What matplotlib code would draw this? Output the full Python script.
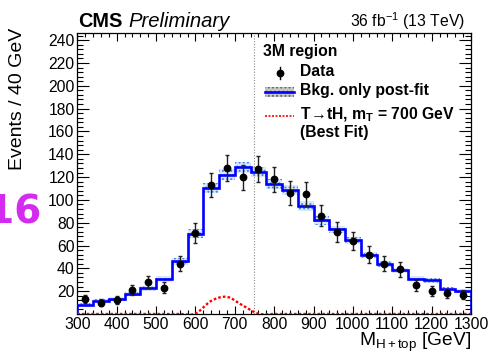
import numpy as np
import matplotlib
matplotlib.use("Agg")
import matplotlib.pyplot as plt
from matplotlib.path import Path
from matplotlib.patches import PathPatch, Rectangle
from matplotlib.lines import Line2D
from matplotlib.ticker import MultipleLocator, FixedLocator

plt.rcParams['font.family'] = ['Liberation Sans', 'DejaVu Sans']
plt.rcParams['mathtext.fontset'] = 'custom'
plt.rcParams['mathtext.rm'] = 'Liberation Sans'
plt.rcParams['mathtext.it'] = 'Liberation Sans:italic'
plt.rcParams['mathtext.bf'] = 'Liberation Sans:bold'
plt.rcParams['hatch.linewidth'] = 0.9

# ---------------- data ----------------
bin_edges = np.arange(300, 1301, 40)
data_counts = [13, 10, 12, 21, 28, 23, 44, 71, 113, 128, 120, 127, 118,
               106, 105, 86, 72, 64, 52, 44, 39, 25, 20, 18, 17]
bkg_postfit = [8.1, 11.8, 13.3, 17.7, 22.6, 30.3, 46.3, 70.4, 110.4, 122.1,
               128.8, 124.4, 114.2, 108.9, 94.6, 82.0, 74.1, 64.5, 51.6,
               43.7, 38.2, 30.9, 29.4, 21.8, 20.4]
bkg_unc = [1.3, 1.5, 1.6, 1.9, 2.2, 2.6, 3.2, 3.8, 4.5, 4.7, 4.8, 4.7, 4.5,
           4.3, 4.0, 3.7, 3.4, 3.1, 2.8, 2.5, 2.3, 2.1, 2.0, 1.8, 1.7]
signal = [0, 0, 0, 0, 0, 0, 0, 0.3, 11.5, 15.0, 7.5, 0.3, 0, 0, 0, 0, 0,
          0, 0, 0, 0, 0, 0, 0, 0]
signal_mass = 750
x_ticks = [300, 400, 500, 600, 700, 800, 900, 1000, 1100, 1200, 1300]
y_ticks = [20, 40, 60, 80, 100, 120, 140, 160, 180, 200, 220, 240]

W, H = 491, 353
fig = plt.figure(figsize=(W / 100, H / 100), dpi=100)
L, R, T, B = 77.3, 471, 33.3, 314
ax = fig.add_axes([L / W, 1 - B / H, (R - L) / W, (B - T) / H])

edges = np.asarray(bin_edges, float)
centers = 0.5 * (edges[:-1] + edges[1:])
d = np.asarray(data_counts, float)
bkg = np.asarray(bkg_postfit, float)
unc = np.asarray(bkg_unc, float)
sig = np.asarray(signal, float)

# uncertainty band
lo = np.append(bkg - unc, (bkg - unc)[-1])
hi = np.append(bkg + unc, (bkg + unc)[-1])
ax.fill_between(edges, lo, hi, step='post', facecolor='#dbe8fc',
                edgecolor='#3d82f0', hatch='....', linewidth=0, zorder=2)
# background histogram
ax.stairs(bkg, edges, baseline=0, fill=False, color='#0000ff', lw=1.9, zorder=3)

# signal smooth curve (Catmull-Rom through bin contents)
px = np.concatenate([[edges[0]], centers, [edges[-1]]])
py = np.concatenate([[sig[0]], sig, [sig[-1]]])
pts = np.column_stack([px, py])
verts = [pts[0]]
codes = [Path.MOVETO]
n = len(pts)
for i in range(n - 1):
    p0 = pts[max(i - 1, 0)]
    p1 = pts[i]
    p2 = pts[i + 1]
    p3 = pts[min(i + 2, n - 1)]
    c1 = p1 + (p2 - p0) / 6.0
    c2 = p2 - (p3 - p1) / 6.0
    verts += [c1, c2, p2]
    codes += [Path.CURVE4] * 3
sig_patch = PathPatch(Path(verts, codes), facecolor='none', edgecolor='#ff0000',
                      lw=1.7, linestyle=(0, (1.1, 0.9)), zorder=4)
ax.add_patch(sig_patch)

# vertical mass line
ax.axvline(signal_mass, color='#8a8a8a', lw=0.8, linestyle=(0, (1, 1.5)), zorder=1)

# data
ax.errorbar(centers, d, yerr=np.sqrt(d), fmt='o', color='black', ms=4.6,
            elinewidth=1.0, capsize=1.3, capthick=1.0, ecolor='#222222', zorder=5)

ax.set_xlim(300, 1300)
ax.set_ylim(0, 246)
ax.xaxis.set_major_locator(FixedLocator(x_ticks))
ax.xaxis.set_minor_locator(MultipleLocator(20))
ax.yaxis.set_major_locator(FixedLocator(y_ticks))
ax.yaxis.set_minor_locator(MultipleLocator(4))
ax.tick_params(which='both', direction='in', top=True, right=True, width=0.8,
               labelsize=11.3, colors='black')
ax.tick_params(axis='x', which='major', length=6, pad=2)
ax.tick_params(axis='x', which='minor', length=3)
ax.tick_params(axis='y', which='major', length=8.5, pad=2)
ax.tick_params(axis='y', which='minor', length=4.2)
for s in ax.spines.values():
    s.set_linewidth(0.9)

def fx(px_):
    return px_ / W

def fy(py_):
    return 1 - py_ / H

# axis titles
fig.text(fx(18), fy(28), 'Events / 40 GeV', rotation=90, ha='center', va='top',
         fontsize=14)
fig.text(fx(471), fy(346.5), r'M$_{\mathrm{H+top}}$ [GeV]', ha='right',
         va='baseline', fontsize=13.8)

# header texts
fig.text(fx(77.7), fy(26.7), 'CMS', fontsize=14.3, fontweight='bold', va='baseline')
fig.text(fx(128), fy(26.7), 'Preliminary', fontsize=14.6, fontstyle='italic',
         va='baseline')
fig.text(fx(465), fy(26.7), r'36 fb$^{-1}$ (13 TeV)', fontsize=11.3, ha='right',
         va='baseline')

# magenta label partially off canvas
fig.text(fx(42), fy(223), '2016', fontsize=28, fontweight='bold', color='#d52bf0',
         ha='right', va='baseline', family='DejaVu Sans')

# legend (manual)
lfs = 11.3
fig.text(fx(263.3), fy(56), '3M region', fontsize=lfs, fontweight='bold', va='baseline')
fig.text(fx(300), fy(76), 'Data', fontsize=lfs, fontweight='bold', va='baseline')
fig.text(fx(300), fy(95.5), 'Bkg. only post-fit', fontsize=lfs, fontweight='bold',
         va='baseline')
fig.text(fx(300), fy(119.3), r'T$\!\rightarrow\!$tH, m$_{\mathbf{T}}$ = 700 GeV',
         fontsize=lfs, fontweight='bold', va='baseline')
fig.text(fx(300), fy(136.7), '(Best Fit)', fontsize=lfs, fontweight='bold',
         va='baseline')

tr = fig.transFigure
# data symbol
fig.add_artist(Line2D([fx(280), fx(280)], [fy(67), fy(78.5)], color='black',
                      lw=1.0, transform=tr))
fig.add_artist(Line2D([fx(280)], [fy(72.7)], marker='o', ms=4.6, color='black',
                      transform=tr))
# bkg symbol
fig.add_artist(Rectangle((fx(265), fy(96.7)), fx(294) - fx(265), fy(87.3) - fy(96.7),
                         facecolor='#c8c8c8', edgecolor='#666666', hatch='....',
                         lw=0, transform=tr))
fig.add_artist(Line2D([fx(265), fx(294)], [fy(92), fy(92)], color='#0000ff', lw=1.9,
                      transform=tr))
# signal symbol
fig.add_artist(Line2D([fx(265), fx(294)], [fy(116), fy(116)], color='#ff0000', lw=1.2,
                      linestyle=(0, (1.2, 0.9)), transform=tr))

fig.savefig('out.png', dpi=100)
